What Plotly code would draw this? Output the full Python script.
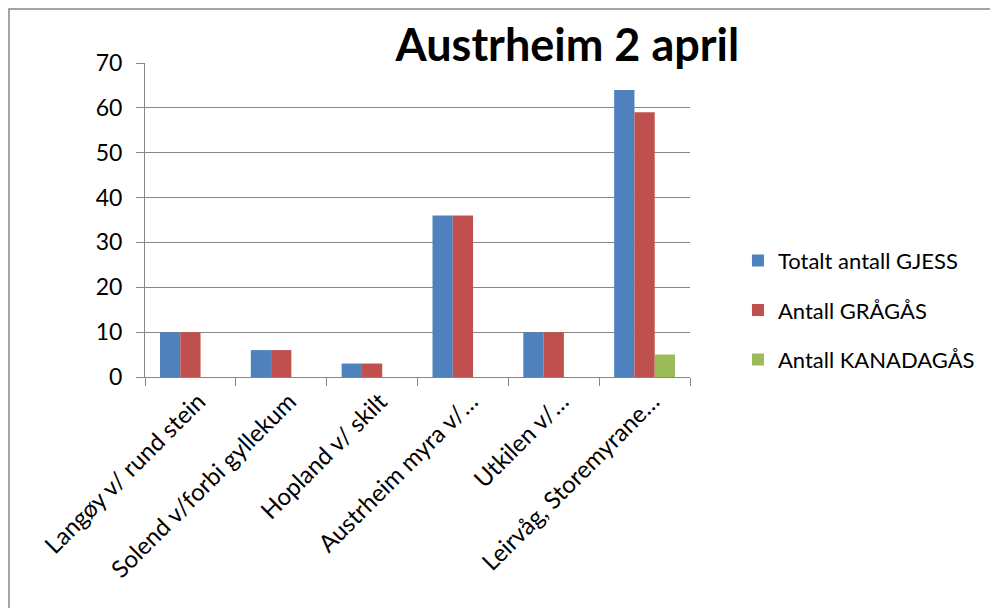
import plotly.graph_objects as go

categories = [
    "Langøy v/ rund stein",
    "Solend v/forbi gyllekum",
    "Hopland v/ skilt",
    "Austrheim myra v/…",
    "Utkilen v/…",
    "Leirvåg, Storemyrane…",
]
series_names = ["Totalt antall GJESS", "Antall GRÅGÅS", "Antall KANADAGÅS"]
totalt = [10, 6, 3, 36, 10, 64]
graagaas = [10, 6, 3, 36, 10, 59]
kanadagaas = [0, 0, 0, 0, 0, 5]
colors = ["#4F81BD", "#C0504D", "#9BBB59"]

FONT = "Lato, Liberation Sans, sans-serif"

fig = go.Figure()
for name, vals, col in zip(series_names, [totalt, graagaas, kanadagaas], colors):
    fig.add_trace(go.Bar(x=categories, y=vals, name=name, legendgroup=name,
                         marker=dict(color=col, line=dict(width=0))))

# page body has an 8px margin; figure coordinates are offset accordingly
fig.update_layout(
    width=990, height=600,
    margin=dict(l=137, r=308, t=55, b=231, autoexpand=False),
    paper_bgcolor="white", plot_bgcolor="white",
    barmode="group", bargap=0.33, bargroupgap=0,
    font=dict(family=FONT, color="black", size=22),
    title=dict(text="<b>Austrheim 2 april</b>", x=0.565, xanchor="center",
               y=0.938, yanchor="middle", font=dict(size=45, family=FONT)),
    legend=dict(x=1.088, xanchor="left", y=0.213, yanchor="middle",
                font=dict(size=22, family=FONT), tracegroupgap=18,
                itemwidth=30, traceorder="grouped"),
    showlegend=True,
)
fig.update_yaxes(range=[0, 70], dtick=10, showgrid=True, gridcolor="#868686",
                 gridwidth=1, showline=True, linecolor="#868686", linewidth=1,
                 ticks="outside", ticklen=8, tickcolor="#868686",
                 tickfont=dict(size=23), zeroline=False, ticklabelstandoff=9,
                 automargin=False)
fig.update_xaxes(showline=True, linecolor="#868686", linewidth=1,
                 ticks="outside", ticklen=8, tickcolor="#868686",
                 tickson="boundaries", tickangle=-45, tickfont=dict(size=24),
                 ticklabelshift=8, showgrid=False, automargin=False)

# chart border (top and left edges visible)
fig.add_shape(type="rect", xref="paper", yref="paper",
              x0=-136/545, x1=1.6, y0=-1.0, y1=(377 - 9) / 314,
              line=dict(color="#868686", width=1.5), layer="below")

fig.write_html("out.html")
